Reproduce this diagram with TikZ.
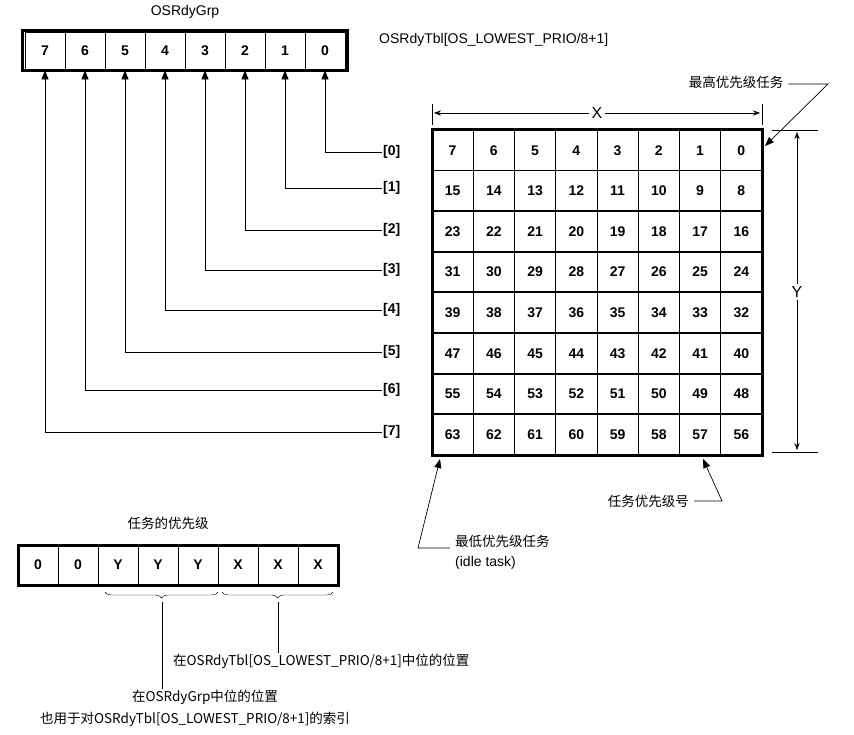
\documentclass[tikz,border=0pt]{standalone}
\usepackage{fontspec}
\setmainfont{Liberation Sans}
\newfontfamily\cjk{Noto Sans CJK SC}
\usetikzlibrary{arrows.meta,decorations.pathreplacing}
\tikzset{
  bitcell/.style={draw,line width=0.8pt,minimum width=40pt,minimum height=40pt,font=\bfseries\fontsize{14}{14}\selectfont,inner sep=0pt},
  tblnum/.style={font=\bfseries\fontsize{14}{14}\selectfont,inner sep=0pt},
  rowlbl/.style={font=\bfseries\fontsize{14}{14}\selectfont,anchor=west,inner sep=1pt},
  note/.style={font=\fontsize{14}{14}\selectfont,inner sep=1pt},
  cnote/.style={font=\cjk\fontsize{13.5}{14}\selectfont,inner sep=1pt},
  ptr/.style={-{Triangle[length=9pt,width=7pt]},line width=0.7pt}
}
\begin{document}
\begin{tikzpicture}[x=1pt,y=-1pt]
  \useasboundingbox (0,0) rectangle (854,735);
  % OSRdyGrp register
  \node[note] (grplbl) at (185,12) {OSRdyGrp};
  \node[note,anchor=west] (tbllbl) at (378,40) {OSRdyTbl[OS\_LOWEST\_PRIO/8+1]};
  \foreach \b/\x in {7/45,6/85,5/125,4/165,3/205,2/245,1/285,0/325}
    \node[bitcell,minimum height=38pt] (g\b) at (\x,51) {\b};
  \draw[line width=3pt] (22,31) rectangle (347,71);
  % row labels and pointers
  \foreach \r/\y in {0/152,1/188,2/230,3/270,4/310,5/352,6/390,7/432}{
    \node[rowlbl] (r\r) at (382,\y) {[\r]};
    \draw[ptr] (r\r.west) -| (g\r.south);
  }
  % ready table
  \foreach \r in {0,...,7}
    \foreach \c in {0,...,7}{
      \pgfmathtruncatemacro{\v}{8*\r+7-\c}
      \node[tblnum] (t\r\c) at ({452.6+41.25*\c},{150.3+40.6*\r}) {\v};
    }
  \foreach \c in {1,...,7}
    \draw[line width=0.7pt] ({432+41.25*\c},130) -- ({432+41.25*\c},455);
  \foreach \r in {1,...,7}
    \draw[line width=1.8pt] (432,{130+40.6*\r}) -- (762,{130+40.6*\r});
  \draw[line width=3pt] (432,130) rectangle (762,455);
  % X and Y dimensions
  \draw (432,104) -- (432,125);
  \draw (762,104) -- (762,125);
  \node[font=\fontsize{16}{16}\selectfont,fill=white,inner sep=2pt] (xl) at (597,113) {X};
  \coordinate (xa) at (434,113);
  \coordinate (xb) at (760,113);
  \draw[-{Stealth[length=7pt]}] (xl) -- (xa);
  \draw[-{Stealth[length=7pt]}] (xl) -- (xb);
  \draw (772,130) -- (818,130);
  \draw (772,452) -- (818,452);
  \node[font=\fontsize{16}{16}\selectfont,fill=white,inner sep=2pt] (yl) at (797,292) {Y};
  \coordinate (ya) at (797,132);
  \coordinate (yb) at (797,450);
  \draw[-{Stealth[length=7pt]}] (yl) -- (ya);
  \draw[-{Stealth[length=7pt]}] (yl) -- (yb);
  % annotations
  \node[cnote] (hi) at (736,82) {最高优先级任务};
  \coordinate (hia) at (828,84);
  \draw[ptr] (hi.east) ++(4,2) -- (hia) -- (765,146);
  \node[cnote,anchor=east] (pn) at (690,501) {任务优先级号};
  \coordinate (pna) at (722,501);
  \draw[ptr] (pn.east) ++(4,0) -- (pna) -- (703,459);
  \node[cnote,anchor=west] (lo) at (454,541) {最低优先级任务};
  \node[note,anchor=west] (idle) at (454,563) {(idle task)};
  \coordinate (loa) at (418,548);
  \draw[ptr] (450,548) -- (loa) -- (440,459);
  % task priority
  \node[cnote] (prio) at (168,523) {任务的优先级};
  \foreach \t [count=\i from 0] in {0,0,Y,Y,Y,X,X,X}
    \node[bitcell] (p\i) at ({38+40*\i},565) {\t};
  \draw[line width=3pt] (18,545) rectangle (338,585);
  \draw[decorate,decoration={brace,mirror,amplitude=6pt}] (105,592) -- (218,592) coordinate[midway] (ym);
  \draw[decorate,decoration={brace,mirror,amplitude=6pt}] (222,592) -- (333,592) coordinate[midway] (xm);
  \node[cnote,anchor=west] (xpos) at (172,661) {在OSRdyTbl[OS\_LOWEST\_PRIO/8+1]中位的位置};
  \node[cnote] (ypos) at (205,697) {在OSRdyGrp中位的位置};
  \node[cnote] (yidx) at (195,719) {也用于对OSRdyTbl[OS\_LOWEST\_PRIO/8+1]的索引};
  \draw (162,602) -- (ypos.north -| 162,0);
  \draw (278,602) -- (xpos.north -| 278,0);
\end{tikzpicture}
\end{document}
